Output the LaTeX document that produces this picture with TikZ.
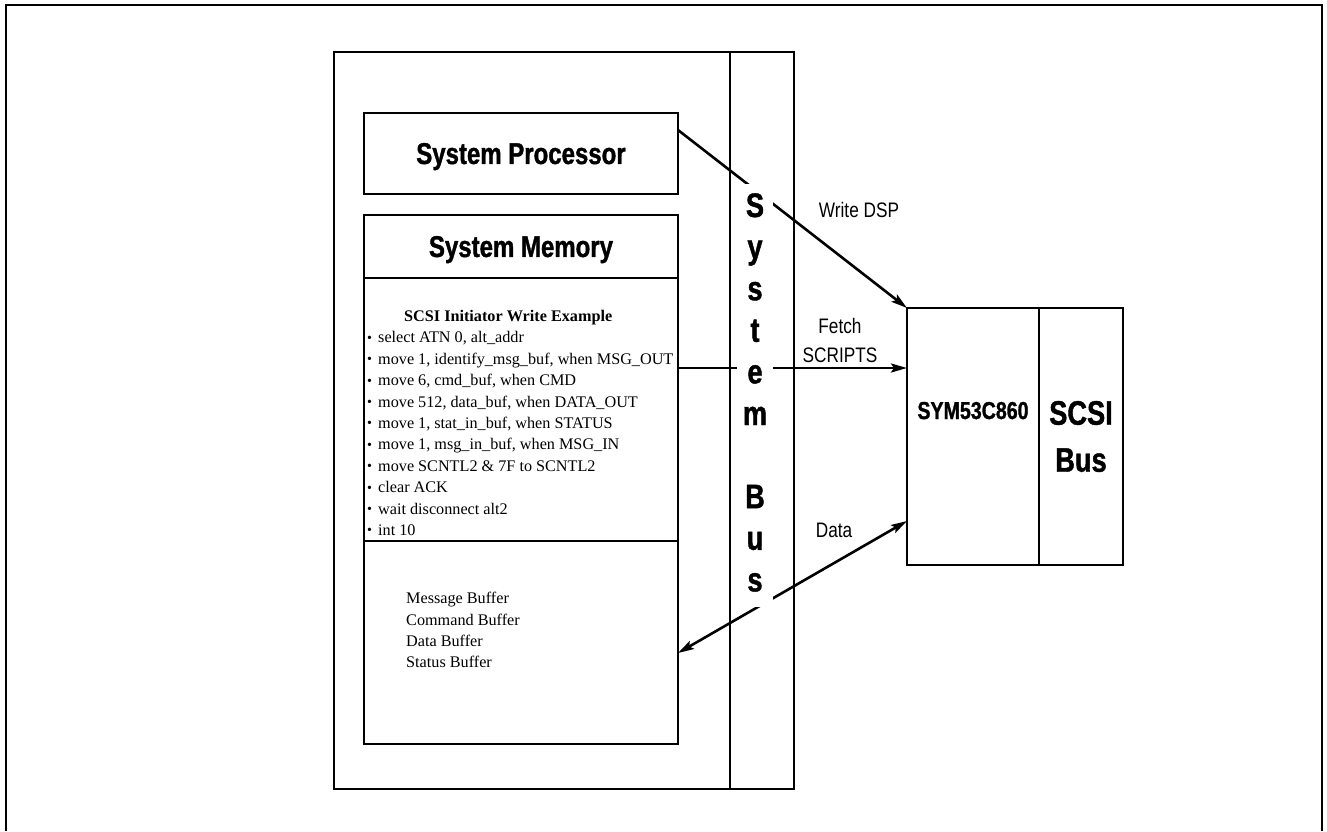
\documentclass[tikz,border=0pt]{standalone}
\usepackage{fontspec}
\setmainfont{Liberation Serif}
\newfontfamily\condsans[FakeStretch=0.82]{Liberation Sans}
\newfontfamily\condblack[FakeStretch=0.8, UprightFont=* Bold, FakeBold=1.2]{Liberation Sans}
\usetikzlibrary{positioning, arrows.meta}
\newcommand{\itm}{\makebox[11pt][l]{\raisebox{0.5pt}{\fontsize{14}{14}\selectfont\symbol{"2022}}}}

\begin{document}
\begin{tikzpicture}[
    x=1pt, y=-1pt,
    box/.style={draw, line width=2pt, inner sep=0pt, outer sep=0pt},
    ttl/.style={font=\condblack\fontsize{30}{32}\selectfont, text depth=0pt},
    lbl/.style={font=\condsans\fontsize{21}{29}\selectfont, align=center, inner sep=0pt},
    busltr/.style={font=\condblack\fontsize{34}{34}\selectfont, fill=white,
      text height=25pt, text depth=8pt, inner xsep=9pt, inner ysep=8pt, minimum width=36pt},
    code/.style={font=\fontsize{16.2}{21.4}\selectfont, align=left, inner sep=0pt},
    link/.style={line width=2.6pt, -{Stealth[length=16pt, width=9pt, inset=3pt]}},
    dlink/.style={line width=2.6pt, {Stealth[length=16pt, width=9pt, inset=3pt]}-{Stealth[length=16pt, width=9pt, inset=3pt]}},
  ]
  \useasboundingbox (0,0) rectangle (1327,831);
  % frame
  \draw[line width=1.5pt] (6,831) -- (6,5) -- (1322,5) -- (1322,831);

  % host side
  \node[box, minimum width=460pt, minimum height=737pt] (host) at (564,420.5) {};
  \node[box, line width=1.5pt, minimum width=64pt, minimum height=737pt] (bus) at (762,420.5) {};

  \node[box, ttl, minimum width=314pt, minimum height=81pt] (proc) at (521,153.5) {System Processor};
  \node[box, ttl, minimum width=314pt, minimum height=63pt] (memtitle) at (521,246.5) {System Memory};
  \node[box, minimum width=314pt, minimum height=263pt, below=0pt of memtitle] (script) {};
  \node[box, minimum width=314pt, minimum height=203pt, below=0pt of script] (buf) {};

  \node[code, anchor=north west] (scrtxt) at (367,310) {%
    \hspace*{37pt}\textbf{SCSI Initiator Write Example}\\
    \itm select ATN 0, alt\_addr\\
    \itm move 1, identify\_msg\_buf, when MSG\_OUT\\
    \itm move 6, cmd\_buf, when CMD\\
    \itm move 512, data\_buf, when DATA\_OUT\\
    \itm move 1, stat\_in\_buf, when STATUS\\
    \itm move 1, msg\_in\_buf, when MSG\_IN\\
    \itm move SCNTL2 \& 7F to SCNTL2\\
    \itm clear ACK\\
    \itm wait disconnect alt2\\
    \itm int 10};
  \node[code, anchor=north west] (buftxt) at (406,592) {Message Buffer\\Command Buffer\\Data Buffer\\Status Buffer};

  % chip side
  \node[box, minimum width=132pt, minimum height=257pt] (sym) at (973,436.5) {};
  \node[box, minimum width=84pt, minimum height=257pt, right=0pt of sym, align=center,
    font=\condblack\fontsize{34}{47}\selectfont] (scsi) {SCSI\\Bus};
  \node[font=\condblack\fontsize{24.5}{26}\selectfont, anchor=base] (symtxt)
    at ([yshift=17.5pt]sym.center) {SYM53C860};

  % connectors
  \draw[link] ([yshift=-17pt]proc.north east) -- (sym.north west);
  \draw[link] ([yshift=41.5pt]script.east) -- ([yshift=-60pt]sym.north west);
  \draw[dlink] ([yshift=-213pt]sym.north west) -- ([yshift=-10.5pt]buf.east);

  \node[lbl, anchor=base] (wdsp) at (859,217) {Write DSP};
  \node[lbl, anchor=south] (fetch) at (840,363) {Fetch\\SCRIPTS};
  \node[lbl, anchor=base] (datalbl) at (834,537) {Data};

  % bus letters
  \foreach \ch/\k in {S/0, y/1, s/2, t/3, e/4, m/5, B/7, u/8, s/9}
    \node[busltr, anchor=base] (ltr\k) at (755,217+41.6*\k) {\ch};
\end{tikzpicture}
\end{document}
